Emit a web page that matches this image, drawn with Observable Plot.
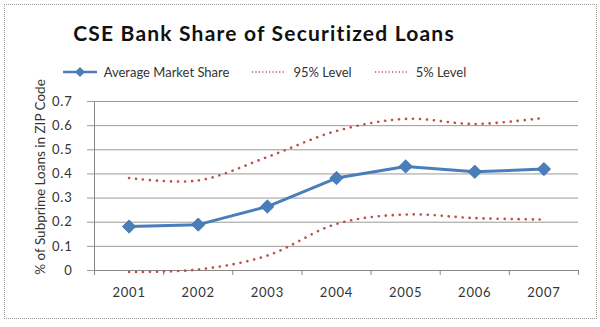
<!DOCTYPE html>
<html>
<head>
<meta charset="utf-8">
<script src="https://cdn.jsdelivr.net/npm/d3@7"></script>
<script src="https://cdn.jsdelivr.net/npm/@observablehq/plot@0.6"></script>
<style>
  html, body { margin: 0; padding: 0; background: #fff; }
  #chart { position: relative; width: 600px; height: 327px; overflow: hidden; font-family: Lato, "Open Sans", sans-serif; color: #222; }
  #border { position: absolute; left: 4px; top: 4px; width: 593px; height: 315px; border: 1px dotted #999; box-sizing: border-box; }
  #title { position: absolute; left: 0; width: 528px; top: 21px; text-align: center; font-weight: bold; font-size: 21px; letter-spacing: 1.2px; line-height: 24px; color: #111; }
  #legend { position: absolute; left: 0; width: 528px; top: 64px; text-align: center; font-size: 13px; line-height: 16px; color: #333; white-space: nowrap; }
  #legend .item { display: inline-flex; align-items: center; margin: 0 11px; }
  #legend svg { margin-right: 6px; }
  #ylabel { position: absolute; left: 40px; top: 177px; transform: translate(-50%, -50%) rotate(-90deg); font-size: 13.5px; white-space: nowrap; color: #333; }
  #plot { position: absolute; left: 0; top: 85px; }
  #plot svg text { letter-spacing: 0.8px; }
</style>
</head>
<body>
<div id="chart">
  <div id="border"></div>
  <div id="title"></div>
  <div id="legend"></div>
  <div id="ylabel"></div>
  <div id="plot"></div>
</div>
<script>
const titleText = "CSE Bank Share of Securitized Loans";
const yLabelText = "% of Subprime Loans in ZIP Code";
const seriesNames = ["Average Market Share", "95% Level", "5% Level"];
const years = [2001, 2002, 2003, 2004, 2005, 2006, 2007];
const avgShare = [0.182, 0.19, 0.265, 0.383, 0.431, 0.409, 0.42];
const level95 = [0.383, 0.373, 0.47, 0.578, 0.628, 0.607, 0.632];
const level5 = [-0.006, 0.004, 0.062, 0.193, 0.232, 0.217, 0.211];
const yTicks = [0, 0.1, 0.2, 0.3, 0.4, 0.5, 0.6, 0.7];
const xBounds = [2000.5, 2001.5, 2002.5, 2003.5, 2004.5, 2005.5, 2006.5, 2007.5];

const blue = "#4A7EBB";
const red = "#C0504D";

document.getElementById("title").textContent = titleText;
document.getElementById("ylabel").textContent = yLabelText;

// legend
const legend = document.getElementById("legend");
function addItem(name, kind) {
  const span = document.createElement("span");
  span.className = "item";
  const ns = "http://www.w3.org/2000/svg";
  const svg = document.createElementNS(ns, "svg");
  svg.setAttribute("width", 36);
  svg.setAttribute("height", 12);
  const line = document.createElementNS(ns, "line");
  line.setAttribute("x1", 1); line.setAttribute("x2", 35);
  line.setAttribute("y1", 6); line.setAttribute("y2", 6);
  if (kind === "avg") {
    line.setAttribute("stroke", blue);
    line.setAttribute("stroke-width", 2.5);
    svg.appendChild(line);
    const d = document.createElementNS(ns, "path");
    d.setAttribute("d", "M18,1 L23,6 L18,11 L13,6 Z");
    d.setAttribute("fill", blue);
    svg.appendChild(d);
  } else {
    line.setAttribute("stroke", red);
    line.setAttribute("stroke-width", 1.6);
    line.setAttribute("stroke-dasharray", "1.2 2.2");
    svg.appendChild(line);
  }
  span.appendChild(svg);
  const t = document.createElement("span");
  t.textContent = name;
  span.appendChild(t);
  legend.appendChild(span);
}
addItem(seriesNames[0], "avg");
addItem(seriesNames[1], "dot");
addItem(seriesNames[2], "dot");

const plot = Plot.plot({
  width: 600,
  height: 235,
  marginTop: 16,
  marginBottom: 50,
  marginLeft: 94,
  marginRight: 22,
  x: { domain: [2000.5, 2007.5] },
  y: { domain: [0, 0.7] },
  style: { fontFamily: "Lato, 'Open Sans', sans-serif", fontSize: "13px", color: "#333", background: "transparent" },
  marks: [
    Plot.gridY(yTicks, { stroke: "#9a9a9a", strokeOpacity: 1 }),
    Plot.axisY(yTicks, { tickSize: 7, tickPadding: 15, stroke: "#9a9a9a", strokeOpacity: 1, tickFormat: d => String(d), label: null, fontSize: 13 }),
    Plot.ruleX([2000.5], { stroke: "#888" }),
    Plot.ruleY([0], { stroke: "#888" }),
    Plot.axisX(xBounds, { tickSize: 5, stroke: "#888", strokeOpacity: 1, tickFormat: () => "", label: null }),
    Plot.axisX(years, { tickSize: 0, tickPadding: 17, tickFormat: "d", label: null, fontSize: 13 }),
    Plot.line(years, { x: d => d, y: (d, i) => level95[i], curve: "catmull-rom", stroke: red, strokeWidth: 2.6, strokeDasharray: "0.1 6.9", strokeLinecap: "round" }),
    Plot.line(years, { x: d => d, y: (d, i) => level5[i], curve: "catmull-rom", stroke: red, strokeWidth: 2.6, strokeDasharray: "0.1 6.9", strokeLinecap: "round" }),
    Plot.line(years, { x: d => d, y: (d, i) => avgShare[i], stroke: blue, strokeWidth: 3 }),
    Plot.dot(years, { x: d => d, y: (d, i) => avgShare[i], symbol: "diamond2", r: 6, fill: blue, stroke: "#3B6DA8", strokeWidth: 0.8 })
  ]
});
document.getElementById("plot").appendChild(plot);
</script>
</body>
</html>
